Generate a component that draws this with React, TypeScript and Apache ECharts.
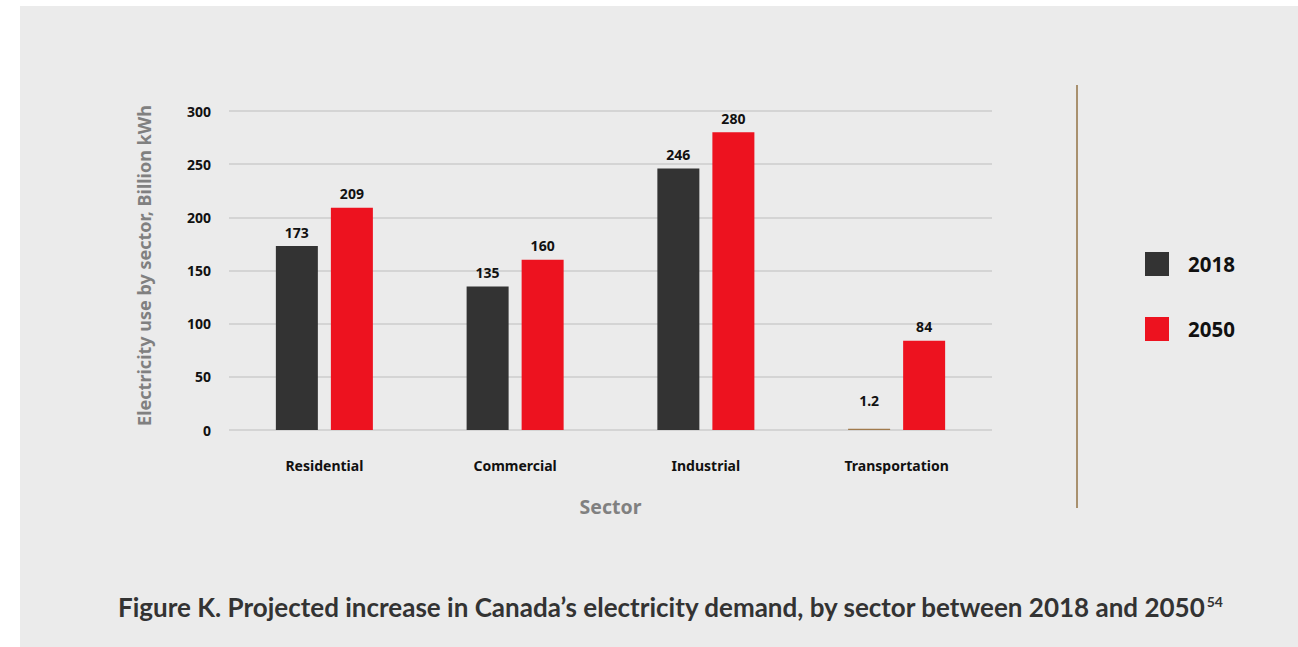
import React, { useEffect, useRef } from "react";
import * as echarts from "echarts";

const categories = ["Residential", "Commercial", "Industrial", "Transportation"];
const seriesNames = ["2018", "2050"];
const values2018 = [173, 135, 246, 1.2];
const values2050 = [209, 160, 280, 84];
const yTicks = [0, 50, 100, 150, 200, 250, 300];
const yAxisTitle = "Electricity use by sector, Billion kWh";
const xAxisTitle = "Sector";
const captionText = "Figure K. Projected increase in Canada’s electricity demand, by sector between 2018 and 2050";
const captionNote = "54";

const DARK = "#333333";
const RED = "#ed121f";
const SMALL_BAR = "#a07a4c";

export default function App() {
  const ref = useRef<HTMLDivElement>(null);
  useEffect(() => {
    if (!ref.current) return;
    const chart = echarts.init(ref.current, undefined, { renderer: "svg" });
    const labelStyle = {
      show: true,
      position: "top",
      distance: 7,
      fontFamily: "Noto Sans",
      fontWeight: "bold",
      fontSize: 14,
      color: "#111",
    };
    chart.setOption({
      animation: false,
      backgroundColor: "#ffffff",
      graphic: [
        { type: "rect", z: -10, shape: { x: 20, y: 6, width: 1278, height: 641 }, style: { fill: "#ebebeb" } },
        { type: "line", shape: { x1: 1077, y1: 85, x2: 1077, y2: 508 }, style: { stroke: "#a8906e", lineWidth: 2 } },
        {
          type: "text",
          x: 670,
          y: 607,
          style: {
            text: "{m|" + captionText + "}{s|" + captionNote + "}",
            align: "center",
            verticalAlign: "middle",
            rich: {
              m: { fontFamily: "Lato", fontWeight: "bold", fontSize: 26, fill: "#333333", color: "#333333" },
              s: { fontFamily: "Lato", fontWeight: "bold", fontSize: 14, fill: "#333333", color: "#333333", verticalAlign: "top", padding: [0, 0, 12, 1] },
            },
          },
        },
      ],
      legend: {
        orient: "vertical",
        left: 1145,
        top: 252,
        padding: 0,
        itemWidth: 24,
        itemHeight: 24,
        itemGap: 41,
        icon: "rect",
        data: seriesNames,
        textStyle: { fontFamily: "Noto Sans", fontWeight: "bold", fontSize: 20.5, color: "#111", padding: [0, 0, 0, 14] },
      },
      grid: { left: 229, right: 306, top: 111, bottom: 217 },
      xAxis: {
        type: "category",
        data: categories,
        axisLine: { show: false },
        axisTick: { show: false },
        axisLabel: { margin: 28, fontFamily: "Noto Sans", fontWeight: "bold", fontSize: 14, color: "#111" },
        name: xAxisTitle,
        nameLocation: "middle",
        nameGap: 66,
        nameTextStyle: { fontFamily: "Noto Sans", fontWeight: "bold", fontSize: 19.5, color: "#808080" },
      },
      yAxis: {
        type: "value",
        min: yTicks[0],
        max: yTicks[yTicks.length - 1],
        interval: 50,
        axisLine: { show: false },
        axisTick: { show: false },
        axisLabel: { margin: 18, fontFamily: "Noto Sans", fontWeight: "bold", fontSize: 14, color: "#111" },
        splitLine: { lineStyle: { color: "#d4d4d4", width: 2 } },
        name: yAxisTitle,
        nameLocation: "middle",
        nameGap: 76,
        nameTextStyle: { fontFamily: "Noto Sans", fontWeight: "bold", fontSize: 18, color: "#808080", padding: [0, 0, 0, 10] },
      },
      series: [
        {
          name: seriesNames[0],
          type: "bar",
          barWidth: 42,
          barGap: "31%",
          itemStyle: { color: DARK },
          label: labelStyle,
          data: values2018.map((v, i) =>
            i === 3 ? { value: v, itemStyle: { color: SMALL_BAR }, label: { distance: 21 } } : v
          ),
        },
        {
          name: seriesNames[1],
          type: "bar",
          barWidth: 42,
          itemStyle: { color: RED },
          label: labelStyle,
          data: values2050,
        },
      ],
    });
    return () => chart.dispose();
  }, []);
  return <div ref={ref} style={{ position: "fixed", left: 0, top: 0, width: 1298, height: 647 }} />;
}
